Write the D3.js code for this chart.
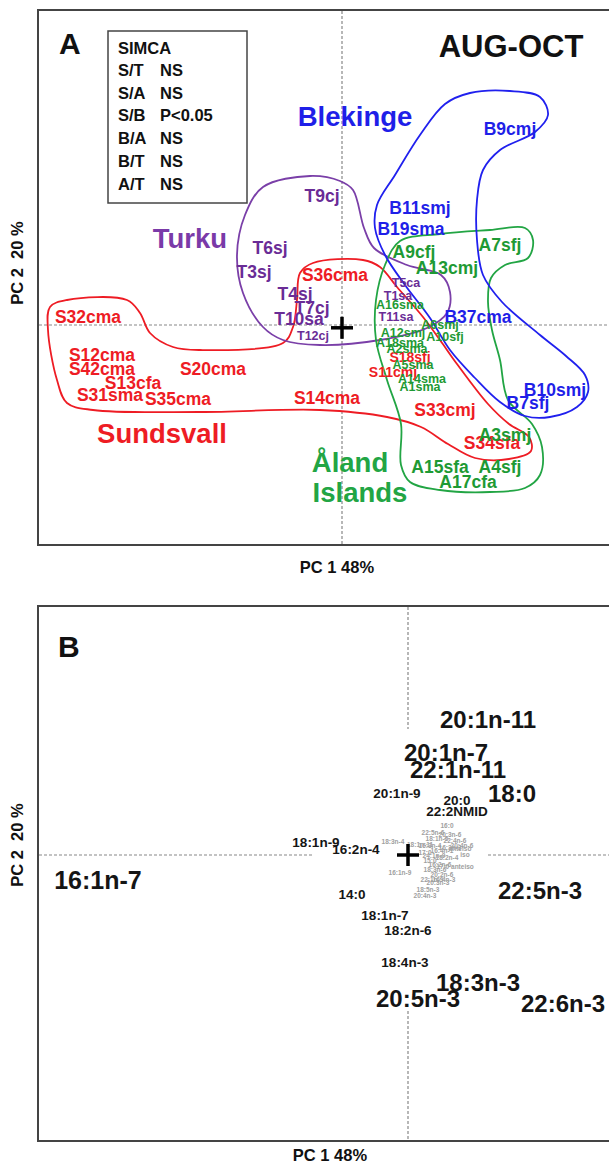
<!DOCTYPE html>
<html><head><meta charset="utf-8">
<script src="https://cdn.jsdelivr.net/npm/d3@7"></script>
<style>
html,body{margin:0;padding:0;background:#fff;}
svg{display:block;}
text{font-family:'Liberation Sans',Arial,sans-serif;font-weight:bold;}
</style></head>
<body>
<svg id="chart" width="609" height="1163"></svg>
<script>
// ---------------- DATA ----------------
// Panel A: sample scores [name, PC1, PC2, sizeClass]
const sundsvall = [
  ["S32cma",-6.35,0.2,"n"],["S12cma",-6.0,-0.75,"n"],["S42cma",-6.0,-1.1,"n"],
  ["S13cfa",-5.225,-1.45,"n"],["S31sma",-5.8,-1.75,"n"],["S35cma",-4.1,-1.85,"n"],
  ["S20cma",-3.225,-1.1,"n"],["S36cma",-0.175,1.25,"n"],["S14cma",-0.375,-1.825,"n"],
  ["S18sfj",1.7,-0.8,"m"],["S11cmj",1.275,-1.175,"m"],["S33cmj",2.575,-2.125,"n"],
  ["S34sfa",3.75,-2.95,"n"]
];
const turku = [
  ["T9cj",-0.5,3.225,"n"],["T6sj",-1.8,1.925,"n"],["T3sj",-2.2,1.325,"n"],
  ["T4sj",-1.175,0.775,"n"],["T7cj",-0.75,0.425,"n"],["T10sa",-1.075,0.15,"n"],
  ["T12cj",-0.725,-0.275,"s"],["T5ca",1.6,1.05,"s"],["T1sa",1.4,0.725,"s"],
  ["T11sa",1.35,0.2,"s"]
];
const blekinge = [
  ["B9cmj",4.2,4.9,"n"],["B11smj",1.95,2.925,"n"],["B19sma",1.725,2.4,"n"],
  ["B37cma",3.4,0.2,"n"],["B10smj",5.325,-1.625,"n"],["B7sfj",4.65,-1.95,"n"]
];
const aland = [
  ["A9cfj",1.8,1.825,"n"],["A13cmj",2.625,1.425,"n"],["A7sfj",3.95,2.0,"n"],
  ["A16sma",1.45,0.5,"s"],["A6smj",2.45,0.0,"s"],["A10sfj",2.575,-0.3,"s"],
  ["A12smj",1.525,-0.2,"s"],["A18sma",1.45,-0.45,"s"],["A2sma",1.625,-0.6,"s"],
  ["A5sma",1.775,-1.0,"s"],["A14sma",2.0,-1.35,"s"],["A1sma",1.95,-1.55,"s"],
  ["A3smj",4.075,-2.75,"n"],["A15sfa",2.45,-3.55,"n"],["A4sfj",3.95,-3.55,"n"],
  ["A17cfa",3.15,-3.925,"n"]
];
// Group enclosures (PC1, PC2)
const hullBlekinge = [[2.575,5.525],[3.2,5.8],[4.2,5.85],[4.95,5.7],[5.15,5.25],[4.825,4.825],[3.95,4.375],[3.525,3.875],[3.375,3.125],[3.375,2.125],[3.525,1.25],[4.0,0.575],[4.95,-0.25],[5.6,-0.775],[6.075,-1.25],[6.15,-1.675],[5.875,-2.05],[5.2,-2.3],[4.575,-2.275],[3.95,-1.925],[3.325,-1.325],[2.7,-0.625],[2.2,0.175],[1.575,1.0],[1.075,1.75],[0.825,2.425],[0.875,3.0],[1.325,3.75],[1.95,4.75]];
const hullAland = [[1.45,2.1],[2.45,2.275],[3.7,2.375],[4.575,2.425],[4.775,2.125],[4.65,1.675],[4.075,1.5],[3.725,1.175],[3.65,0.575],[3.75,-0.125],[3.95,-0.875],[4.15,-1.875],[4.75,-2.475],[5.0,-3.05],[4.95,-3.75],[4.575,-4.075],[3.7,-4.175],[2.45,-4.125],[1.7,-3.925],[1.475,-3.5],[1.475,-2.475],[1.125,-1.375],[0.85,-0.375],[0.85,0.625],[1.075,1.5]];
const hullTurku = [[-2.625,1.75],[-2.425,2.75],[-1.975,3.45],[-0.8,3.725],[-0.05,3.6],[0.275,3.375],[0.55,2.425],[0.8,1.925],[1.625,1.5],[2.475,1.25],[2.7,0.825],[2.625,0.3],[2.125,-0.075],[0.95,-0.375],[-0.55,-0.5],[-1.475,-0.375],[-1.975,-0.05],[-2.475,0.8]];
const hullSundsvall = [[-7.3,0.45],[-6.875,0.625],[-5.375,0.625],[-5.05,0.3],[-4.8,-0.2],[-4.225,-0.55],[-3.55,-0.625],[-1.475,-0.45],[-1.225,-0.05],[-1.125,0.625],[-1.05,1.3],[-0.725,1.55],[0.525,1.625],[0.95,1.45],[1.375,0.95],[2.025,0.2],[2.45,-0.375],[2.875,-0.975],[3.65,-1.975],[4.175,-2.475],[4.675,-2.8],[4.725,-3.15],[4.175,-3.35],[3.325,-3.325],[2.65,-2.975],[1.975,-2.55],[1.125,-2.3],[-0.55,-2.125],[-3.55,-2.175],[-6.225,-2.125],[-6.875,-1.95],[-7.125,-1.375],[-7.35,-0.125]];
const groupNames = [["Blekinge",0.325,5.225],["Turku",-3.8,2.175],["Sundsvall",-4.5,-2.7],["Åland",0.2,-3.425],["Islands",0.45,-4.175]];
const simcaRows = [["S/T","NS"],["S/A","NS"],["S/B","P<0.05"],["B/A","NS"],["B/T","NS"],["A/T","NS"]];

// Panel B: loadings [name, PC1, PC2, sizeClass]
const loadings = [
  ["20:1n-11",2.0,3.4,"L"],["20:1n-7",0.95,2.575,"L"],["22:1n-11",1.25,2.15,"L"],
  ["18:0",2.6,1.55,"L"],["20:1n-9",-0.275,1.55,"M"],["20:0",1.225,1.375,"M"],
  ["22:2NMID",1.225,1.1,"M"],["18:1n-9",-2.3,0.325,"M"],["16:2n-4",-1.3,0.15,"M"],
  ["16:1n-7",-7.75,-0.625,"X"],["14:0",-1.4,-0.975,"M"],["18:1n-7",-0.575,-1.5,"M"],
  ["18:2n-6",0.0,-1.875,"M"],["18:4n-3",-0.075,-2.675,"M"],["22:5n-3",3.3,-0.875,"L"],
  ["18:3n-3",1.75,-3.175,"L"],["20:5n-3",0.25,-3.575,"L"],["22:6n-3",3.875,-3.7,"L"]
];
const minorLoadings = [
  ["16:0",0.975,0.75],["22:5n-6",0.625,0.575],["20:3n-6",1.05,0.525],["18:1n-5",0.725,0.425],
  ["22:4n-6",1.175,0.375],["18:3n-4",-0.375,0.35],["20:4n-6",1.35,0.25],["16:3n-4",0.55,0.25],
  ["anteiso",1.3,0.175],["16:4n-1",0.85,0.125],["17:0",0.425,0.075],["iso",1.425,0.025],
  ["18:2n-4",0.975,-0.05],["15:0",0.55,-0.125],["16:2n-6",0.8,-0.225],["17:0 anteiso",1.175,-0.275],
  ["18:3n-6",0.675,-0.35],["16:1n-9",-0.2,-0.425],["20:2n-6",0.85,-0.475],["22:1n-9",0.6,-0.6],
  ["18:5n-3",0.5,-0.85],["20:4n-3",0.425,-1.0],["16:3n-3",1.05,0.2],["20:3n-3",0.75,-0.675],
  ["18:1n-11",0.3,0.275],["16:4n-3",0.9,-0.6],["24:1n-9",0.65,0.0]
];

// ---------------- DRAW ----------------
const svg = d3.select("#chart");
const col = {S:"#ee1c24", T:"#6a2c96", B:"#1f1fe8", A:"#1e9a34"};
const hullCol = {S:"#ee1c24", T:"#7a3fa8", B:"#2020ee", A:"#22a544"};

// Panel A scales
const xA = d3.scaleLinear().domain([-7.6, 7.6]).range([38, 646]);
const yA = d3.scaleLinear().domain([-5.5, 7.875]).range([545, 10]);
// Panel B scales
const xB = d3.scaleLinear().domain([-9.25, 5.95]).range([38, 646]);
const yB = d3.scaleLinear().domain([-7.15, 6.225]).range([1141, 606]);

function frame(x0, y0, y1){
  svg.append("rect").attr("x",x0).attr("y",y0).attr("width",620-x0).attr("height",y1-y0)
    .attr("fill","none").attr("stroke","#444").attr("stroke-width",2);
}
function dashed(x1,y1,x2,y2){
  svg.append("line").attr("x1",x1).attr("y1",y1).attr("x2",x2).attr("y2",y2)
    .attr("stroke","#888").attr("stroke-width",1.2).attr("stroke-dasharray","3,2");
}
function cross(cx, cy){
  svg.append("line").attr("x1",cx-11).attr("x2",cx+11).attr("y1",cy).attr("y2",cy).attr("stroke","#000").attr("stroke-width",3.5);
  svg.append("line").attr("x1",cx).attr("x2",cx).attr("y1",cy-11).attr("y2",cy+11).attr("stroke","#000").attr("stroke-width",3.5);
}

// ===== Panel A =====
frame(38, 10, 545);
dashed(xA(0), 11, xA(0), 544);
dashed(39, yA(0), 609, yA(0));

const hullLine = d3.line().x(d=>xA(d[0])).y(d=>yA(d[1])).curve(d3.curveCatmullRomClosed.alpha(0.5));
[[hullSundsvall,"S"],[hullTurku,"T"],[hullAland,"A"],[hullBlekinge,"B"]].forEach(([h,k])=>{
  svg.append("path").attr("d",hullLine(h)).attr("fill","none").attr("stroke",hullCol[k]).attr("stroke-width",1.8);
});

const sizeA = {n:17.5, m:14, s:12.5};
[[sundsvall,"S"],[turku,"T"],[blekinge,"B"],[aland,"A"]].forEach(([arr,k])=>{
  svg.append("g").selectAll("text").data(arr).join("text")
    .attr("x",d=>xA(d[1])).attr("y",d=>yA(d[2]))
    .attr("text-anchor","middle").attr("dominant-baseline","central")
    .attr("font-size",d=>sizeA[d[3]]).attr("fill",col[k]).text(d=>d[0]);
});
cross(xA(0), yA(-0.07));

const groupCol = {"Blekinge":"#1f1fe8","Turku":"#7a3aa8","Sundsvall":"#ee1c24","Åland":"#22a544","Islands":"#22a544"};
svg.append("g").selectAll("text").data(groupNames).join("text")
  .attr("x",d=>xA(d[1])).attr("y",d=>yA(d[2]))
  .attr("text-anchor","middle").attr("dominant-baseline","central")
  .attr("font-size",27.5).attr("fill",d=>groupCol[d[0]]).text(d=>d[0]);

// panel letter + title
svg.append("text").attr("x",59).attr("y",54).attr("font-size",30).attr("fill","#111").text("A");
svg.append("text").attr("x",511).attr("y",57).attr("text-anchor","middle").attr("font-size",31).attr("fill","#111").text("AUG-OCT");

// SIMCA box
svg.append("rect").attr("x",108).attr("y",31).attr("width",139).attr("height",172)
  .attr("fill","#fff").attr("stroke","#444").attr("stroke-width",1.5);
svg.append("text").attr("x",118).attr("y",54).attr("font-size",16.5).attr("fill","#111").text("SIMCA");
const sg = svg.append("g").selectAll("g").data(simcaRows).join("g");
sg.append("text").attr("x",118).attr("y",(d,i)=>76+i*22.7).attr("font-size",16.5).attr("font-weight","normal").attr("fill","#111").text(d=>d[0]);
sg.append("text").attr("x",160).attr("y",(d,i)=>76+i*22.7).attr("font-size",16.5).attr("font-weight","normal").attr("fill","#111").text(d=>d[1]);

// axis titles A
svg.append("text").attr("transform","translate(23,263) rotate(-90)").attr("text-anchor","middle")
  .attr("font-size",16.5).attr("fill","#111").style("white-space","pre").text("PC 2  20 %");
svg.append("text").attr("x",337).attr("y",573).attr("text-anchor","middle").attr("font-size",16.5).attr("fill","#111").text("PC 1 48%");

// ===== Panel B =====
frame(38, 606, 1141);
dashed(xB(0), 607, xB(0), yB(3.15));
dashed(xB(0), yB(-3.9), xB(0), 1140);
dashed(39, yB(0), xB(-2.4), yB(0));
dashed(xB(2.0), yB(0), 609, yB(0));

svg.append("g").selectAll("text").data(minorLoadings).join("text")
  .attr("x",d=>xB(d[1])).attr("y",d=>yB(d[2]))
  .attr("text-anchor","middle").attr("dominant-baseline","central")
  .attr("font-size",6.5).attr("fill","#a0a0a0").text(d=>d[0]);

cross(xB(0), yB(0));

const sizeB = {L:24, M:13.5, X:25};
svg.append("g").selectAll("text").data(loadings).join("text")
  .attr("x",d=>xB(d[1])).attr("y",d=>yB(d[2]))
  .attr("text-anchor","middle").attr("dominant-baseline","central")
  .attr("font-size",d=>sizeB[d[3]]).attr("fill","#151515").text(d=>d[0]);

svg.append("text").attr("x",58).attr("y",657).attr("font-size",30).attr("fill","#111").text("B");
svg.append("text").attr("transform","translate(23,845) rotate(-90)").attr("text-anchor","middle")
  .attr("font-size",16.5).attr("fill","#111").style("white-space","pre").text("PC 2  20 %");
svg.append("text").attr("x",330).attr("y",1161).attr("text-anchor","middle").attr("font-size",16.5).attr("fill","#111").text("PC 1 48%");
</script>
</body></html>
